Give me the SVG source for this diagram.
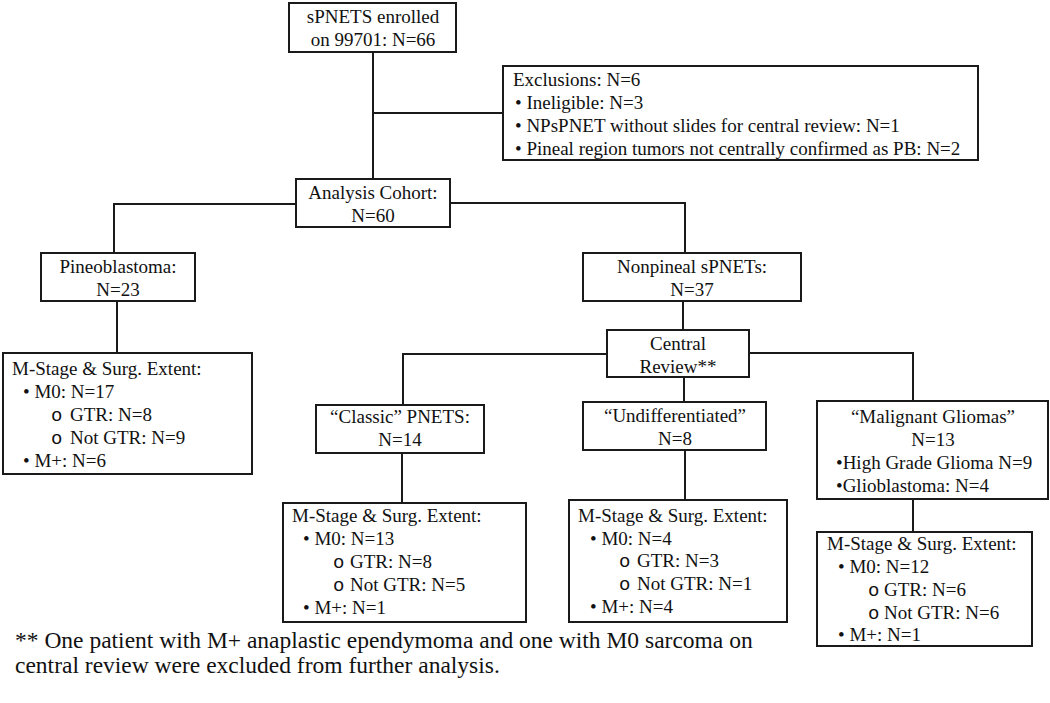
<svg xmlns="http://www.w3.org/2000/svg" width="1050" height="703" viewBox="0 0 1050 703">
<style>
.box{fill:#fff;stroke:#1a1a1a;stroke-width:2}
.t{font-family:"Liberation Serif","Times New Roman",serif;font-size:19px;fill:#111}
.c{text-anchor:middle}
.o{font-family:"Liberation Mono","Courier New",monospace}
.fn{font-size:23.5px}
.conn{fill:none;stroke:#1a1a1a;stroke-width:2}
</style>
<rect width="1050" height="703" fill="#fff"/>
<g id="connectors" class="conn">
<path d="M373,52 V179"/>
<path d="M373,113 H503"/>
<path d="M296,204 H114 V253"/>
<path d="M450,203 H685 V253"/>
<path d="M117,301 V353"/>
<path d="M683,301 V330"/>
<path d="M607,354 H403 V405"/>
<path d="M749,353 H913 V401"/>
<path d="M684,377 V402"/>
<path d="M402,453 V503"/>
<path d="M685,450 V500"/>
<path d="M913,499 V532"/>
</g>
<g id="enrolled">
<rect class="box" x="289" y="3" width="167" height="49"/>
<text class="t c" x="373" y="23">sPNETS enrolled</text>
<text class="t c" x="373" y="46">on 99701: N=66</text>
</g>
<g id="exclusions">
<rect class="box" x="503" y="66" width="475" height="94"/>
<text class="t" x="513" y="86">Exclusions: N=6</text>
<text class="t" x="515" y="109">• Ineligible: N=3</text>
<text class="t" x="515" y="132">• NPsPNET without slides for central review: N=1</text>
<text class="t" x="515" y="155">• Pineal region tumors not centrally confirmed as PB: N=2</text>
</g>
<g id="analysis">
<rect class="box" x="296" y="179" width="154" height="48"/>
<text class="t c" x="373" y="199">Analysis Cohort:</text>
<text class="t c" x="373" y="222">N=60</text>
</g>
<g id="pineoblastoma">
<rect class="box" x="41" y="253" width="154" height="48"/>
<text class="t c" x="118" y="273">Pineoblastoma:</text>
<text class="t c" x="118" y="296">N=23</text>
</g>
<g id="nonpineal">
<rect class="box" x="583" y="253" width="218" height="48"/>
<text class="t c" x="692" y="273">Nonpineal sPNETs:</text>
<text class="t c" x="692" y="296">N=37</text>
</g>
<g id="central-review">
<rect class="box" x="607" y="330" width="142" height="47"/>
<text class="t c" x="678" y="350">Central</text>
<text class="t c" x="678" y="373">Review**</text>
</g>
<g id="classic">
<rect class="box" x="316" y="405" width="168" height="48"/>
<text class="t c" x="400" y="423">“Classic” PNETS:</text>
<text class="t c" x="400" y="446">N=14</text>
</g>
<g id="undifferentiated">
<rect class="box" x="583" y="402" width="183" height="48"/>
<text class="t c" x="675" y="422">“Undifferentiated”</text>
<text class="t c" x="675" y="445">N=8</text>
</g>
<g id="malignant">
<rect class="box" x="817" y="401" width="231" height="98"/>
<text class="t c" x="933" y="423">“Malignant Gliomas”</text>
<text class="t c" x="933" y="446">N=13</text>
<text class="t" x="836" y="469">•High Grade Glioma N=9</text>
<text class="t" x="836" y="492">•Glioblastoma: N=4</text>
</g>
<g id="pineo-mstage">
<rect class="box" x="3" y="353" width="249" height="121"/>
<text class="t" x="12" y="375">M-Stage &amp; Surg. Extent:</text>
<text class="t" x="23" y="398">• M0: N=17</text>
<text class="t" y="421"><tspan class="o" x="51">o</tspan><tspan x="70">GTR: N=8</tspan></text>
<text class="t" y="444"><tspan class="o" x="51">o</tspan><tspan x="70">Not GTR: N=9</tspan></text>
<text class="t" x="23" y="467">• M+: N=6</text>
</g>
<g id="classic-mstage">
<rect class="box" x="283" y="503" width="243" height="119"/>
<text class="t" x="292" y="522">M-Stage &amp; Surg. Extent:</text>
<text class="t" x="303" y="545">• M0: N=13</text>
<text class="t" y="568"><tspan class="o" x="333">o</tspan><tspan x="350">GTR: N=8</tspan></text>
<text class="t" y="591"><tspan class="o" x="333">o</tspan><tspan x="350">Not GTR: N=5</tspan></text>
<text class="t" x="303" y="614">• M+: N=1</text>
</g>
<g id="undiff-mstage">
<rect class="box" x="569" y="500" width="218" height="122"/>
<text class="t" x="578" y="522">M-Stage &amp; Surg. Extent:</text>
<text class="t" x="590" y="545">• M0: N=4</text>
<text class="t" y="567"><tspan class="o" x="619">o</tspan><tspan x="637">GTR: N=3</tspan></text>
<text class="t" y="590"><tspan class="o" x="619">o</tspan><tspan x="637">Not GTR: N=1</tspan></text>
<text class="t" x="590" y="613">• M+: N=4</text>
</g>
<g id="malignant-mstage">
<rect class="box" x="817" y="532" width="215" height="114"/>
<text class="t" x="827" y="550">M-Stage &amp; Surg. Extent:</text>
<text class="t" x="838" y="573">• M0: N=12</text>
<text class="t" y="596"><tspan class="o" x="868">o</tspan><tspan x="884">GTR: N=6</tspan></text>
<text class="t" y="619"><tspan class="o" x="868">o</tspan><tspan x="884">Not GTR: N=6</tspan></text>
<text class="t" x="838" y="641">• M+: N=1</text>
</g>
<g id="footnote">
<text class="t fn" x="15" y="648">** One patient with M+ anaplastic ependymoma and one with M0 sarcoma on</text>
<text class="t fn" x="15" y="673">central review were excluded from further analysis.</text>
</g>
</svg>
